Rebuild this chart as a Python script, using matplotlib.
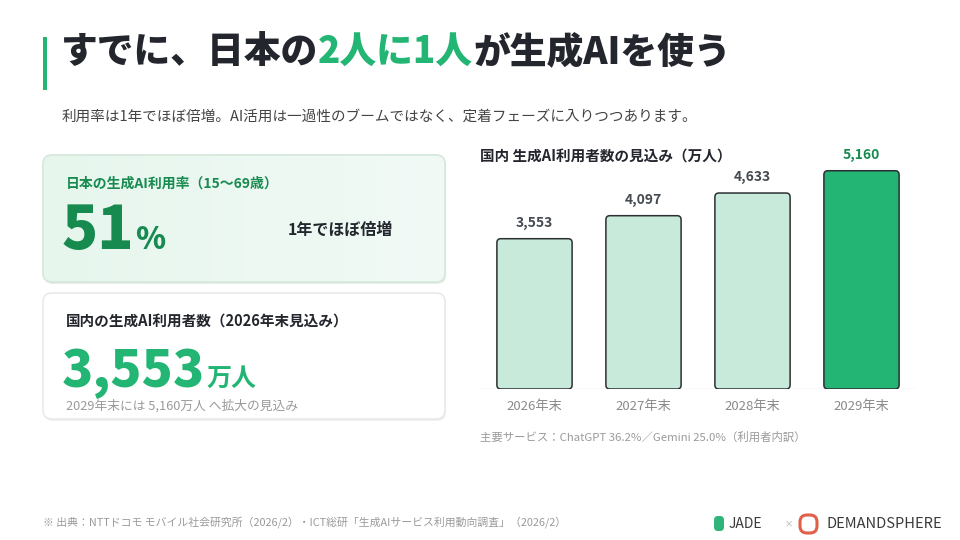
import numpy as np
import matplotlib
matplotlib.use("Agg")
import matplotlib.pyplot as plt
from matplotlib.patches import FancyBboxPatch, Rectangle

plt.rcParams['font.family'] = ['Noto Sans CJK JP', 'DejaVu Sans']

# data
years = ["2026年末", "2027年末", "2028年末", "2029年末"]
users = [3553, 4097, 4633, 5160]
value_labels = ["3,553", "4,097", "4,633", "5,160"]
usage_rate = 51

GREEN = "#22b573"
DKGREEN = "#178a50"
DARK = "#23262d"
GRAY = "#8a8a8a"

fig = plt.figure(figsize=(9.6, 5.4), dpi=100)
fig.patch.set_facecolor("white")

# background layer in pixel coordinates
bg = fig.add_axes([0, 0, 1, 1])
bg.set_xlim(0, 960)
bg.set_ylim(540, 0)
bg.axis("off")

# title accent bar
bg.add_patch(Rectangle((43, 37), 4, 53, color=GREEN, lw=0))

def t(x, y, s, **kw):
    kw.setdefault("va", "center")
    kw.setdefault("ha", "left")
    return bg.text(x, y, s, **kw)

# title with coloured part
parts = [("すでに、日本の", DARK), ("2人に1人", GREEN), ("が生成AIを使う", DARK)]
fig.canvas.draw()
x = 61
r = fig.canvas.get_renderer()
for s, c in parts:
    tx = t(x, 52, s, fontsize=26.5, fontweight=900, color=c)
    bb = tx.get_window_extent(renderer=r)
    x += bb.width

t(62, 117, "利用率は1年でほぼ倍増。AI活用は一過性のブームではなく、定着フェーズに入りつつあります。",
  fontsize=10.5, color="#444444")

# card 1 with soft gradient
bg.add_patch(FancyBboxPatch((44, 157), 402, 127, boxstyle="round,pad=0,rounding_size=9",
                            fc="#e9eeea", ec="none", zorder=1))
card1 = FancyBboxPatch((43, 155), 402, 127, boxstyle="round,pad=0,rounding_size=9",
                       fc="#eef9f2", ec="#d4eadc", lw=1.0, zorder=2)
bg.add_patch(card1)
grad = np.linspace(0, 1, 256).reshape(1, -1)
im = bg.imshow(grad, extent=(43, 445, 282, 155), cmap=matplotlib.colors.LinearSegmentedColormap.from_list(
    "g", ["#e6f6ed", "#f2faf6"]), aspect="auto", zorder=2.1, interpolation="bilinear")
im.set_clip_path(card1)
bg.add_patch(FancyBboxPatch((43, 155), 402, 127, boxstyle="round,pad=0,rounding_size=9",
                            fc="none", ec="#d4e6da", lw=1.0, zorder=2.2))
bg.set_xlim(0, 960)
bg.set_ylim(540, 0)

t(66, 184, "日本の生成AI利用率（15〜69歳）", fontsize=10, fontweight="bold", color=DKGREEN, zorder=3)
t(62, 249, str(usage_rate), fontsize=43, fontweight=900, color=DKGREEN, va="baseline", zorder=3)
t(135, 249, "%", fontsize=22, fontweight=900, color=DKGREEN, va="baseline", zorder=3)
t(288, 230, "1年でほぼ倍増", fontsize=11.5, fontweight="bold", color=DARK, zorder=3)

# card 2
bg.add_patch(FancyBboxPatch((44, 295), 402, 126, boxstyle="round,pad=0,rounding_size=9",
                            fc="#f1f1f1", ec="none", zorder=1))
bg.add_patch(FancyBboxPatch((43, 293), 402, 126, boxstyle="round,pad=0,rounding_size=9",
                            fc="white", ec="#e6e6e6", lw=1.0, zorder=2))
t(66, 322, "国内の生成AI利用者数（2026年末見込み）", fontsize=10.5, fontweight="bold", color=DARK, zorder=3)
big = t(62, 387, value_labels[0], fontsize=37, fontweight=900, color=GREEN, va="baseline", zorder=3)
bw_px = big.get_window_extent(renderer=r).width
t(62 + bw_px + 1, 386, "万人", fontsize=18, fontweight="bold", color=GREEN, va="baseline", zorder=3)
t(66, 406, "2029年末には 5,160万人 へ拡大の見込み", fontsize=9.2, color="#9a9a9a", zorder=3)

# chart
t(480, 157, "国内 生成AI利用者数の見込み（万人）", fontsize=10.5, fontweight="bold", color=DARK)

ax_l, ax_r, ax_top, ax_bot = 480, 916, 150, 389
ax = fig.add_axes([ax_l / 960, 1 - ax_bot / 540, (ax_r - ax_l) / 960, (ax_bot - ax_top) / 540])
ax.patch.set_alpha(0)
ymax = (ax_bot - ax_top) / 0.0423
ax.set_xlim(-0.5, 3.5)
ax.set_ylim(0, ymax)
units_per_px_x = 4 / (ax_r - ax_l)
units_per_px_y = ymax / (ax_bot - ax_top)
aspect = units_per_px_y / units_per_px_x
bw = 0.69
rr = 4 * units_per_px_x
for i, v in enumerate(users):
    fc = GREEN if i == len(users) - 1 else "#c8eadb"
    ax.add_patch(FancyBboxPatch((i - bw / 2, 0), bw, v,
                                boxstyle=f"round,pad=0,rounding_size={rr}",
                                mutation_aspect=aspect, fc=fc, ec="#2b2f33", lw=1.1, zorder=3))
    tc = DKGREEN if i == len(users) - 1 else "#444a50"
    ax.text(i, v + 16 * units_per_px_y, value_labels[i], ha="center", va="center",
            fontsize=10, fontweight="bold", color=tc)
ax.axhline(0, color="#e8e8e8", lw=1.0, zorder=1)
ax.set_xticks(range(len(years)))
ax.set_xticklabels(years, fontsize=9.5, color=GRAY)
ax.tick_params(axis="x", length=0, pad=8)
ax.set_yticks([])
for s in ax.spines.values():
    s.set_visible(False)

t(480, 437, "主要サービス：ChatGPT 36.2%／Gemini 25.0%（利用者内訳）", fontsize=8.2, color="#9a9a9a")

# footer
t(43, 522, "※ 出典：NTTドコモ モバイル社会研究所（2026/2）・ICT総研「生成AIサービス利用動向調査」（2026/2）",
  fontsize=7.8, color="#9a9a9a")
t(729, 524, "JADE", fontsize=10, color="#3a3a3a")
bg.add_patch(FancyBboxPatch((714, 516), 10, 15, boxstyle="round,pad=0,rounding_size=4",
                            fc="#2fb57a", ec="none"))
t(785, 524, "×", fontsize=6, color="#aaaaaa")
bg.add_patch(FancyBboxPatch((800, 515), 17, 18, boxstyle="round,pad=0,rounding_size=7",
                            fc="none", ec="#e0604a", lw=2.2))
t(826, 524, "DEMANDSPHERE", fontsize=10.5, color="#3a3a3a")

fig.savefig("out.png", dpi=100)
